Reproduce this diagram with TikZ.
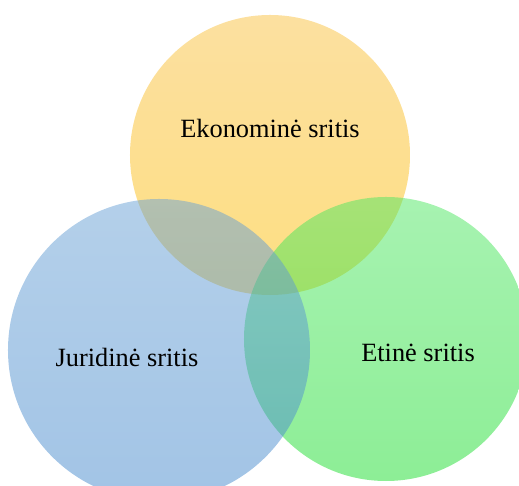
\documentclass[tikz,border=0pt]{standalone}
\usepackage{fontspec}
\setmainfont{Liberation Serif}
\usetikzlibrary{positioning}

\definecolor{econtop}{RGB}{249,193,65}
\definecolor{econbot}{RGB}{253,190,5}
\definecolor{jurtop}{RGB}{105,161,213}
\definecolor{jurbot}{RGB}{69,137,205}
\definecolor{etitop}{RGB}{79,231,99}
\definecolor{etibot}{RGB}{27,221,45}

\tikzset{
  area/.style={circle, inner sep=0pt, fill opacity=0.5},
  field/.style={font=\fontsize{22.5}{27}\selectfont, text=black}
}

\begin{document}
\begin{tikzpicture}[x=0.03cm, y=-0.03cm]

    \useasboundingbox (0, 0) rectangle (519, 486);

    % the three spheres
    \node [area, minimum size=8.4cm, top color=econtop, bottom color=econbot]
    (econ) at (270, 155) {};
    \node [area, minimum size=8.52cm, top color=etitop, bottom color=etibot]
    (eti) at (386, 339) {};
    \node [area, minimum size=9.06cm, top color=jurtop, bottom color=jurbot]
    (jur) at (159, 350) {};

    \node [field] (econlabel) at (270, 128) {Ekonominė sritis};
    \node [field] (jurlabel) at (127, 357) {Juridinė sritis};
    \node [field] (etilabel) at (418, 353) {Etinė sritis};

  \end{tikzpicture}
\end{document}
